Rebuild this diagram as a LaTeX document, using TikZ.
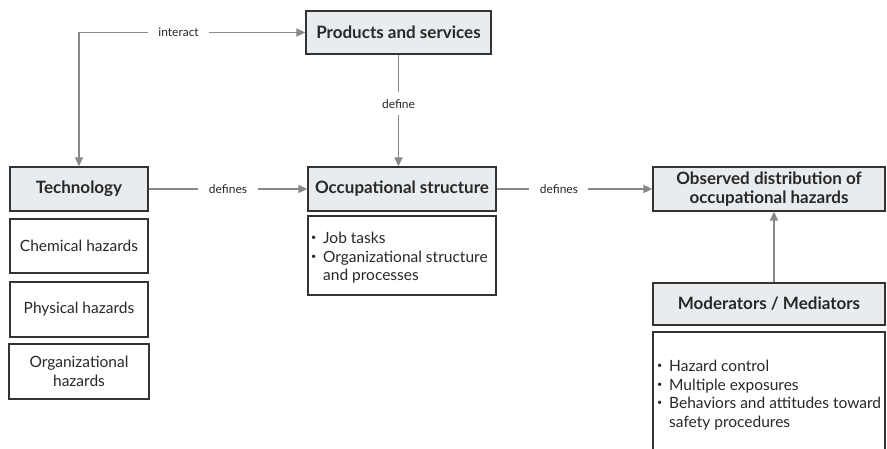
\documentclass[tikz,border=0pt]{standalone}
\usepackage{fontspec}
\setmainfont{Lato}
\usetikzlibrary{arrows.meta}
\definecolor{boxfill}{HTML}{E8ECEE}
\definecolor{boxline}{HTML}{333333}
\definecolor{arrowc}{HTML}{888888}
\definecolor{txt}{HTML}{282828}
\newcommand\mybul{\makebox[12pt][l]{\raisebox{0.18em}{\fontsize{9}{0}\selectfont\textbullet}}}
\tikzset{
  base/.style={draw=boxline, line width=1.3pt, inner sep=0pt, align=center, text=txt},
  title/.style={base, fill=boxfill, font=\fontsize{17}{19}\selectfont\bfseries},
  plainbox/.style={base, fill=white, font=\fontsize{15.5}{18.5}\selectfont},
  listtext/.style={inner sep=0pt, align=left, anchor=north west, font=\fontsize{15.5}{18.5}\selectfont, text=txt},
  conn/.style={draw=arrowc, line width=1.7pt, -{Triangle[length=9pt,width=8pt]}},
  lbl/.style={fill=white, inner xsep=10.5pt, inner ysep=3pt, font=\fontsize{12}{14}\selectfont, text=txt}
}
\begin{document}
\begin{tikzpicture}[x=1pt,y=-1pt]
\clip (0,0) rectangle (887,448);
\fill[white] (0,0) rectangle (887,448);
% boxes
\node[title, minimum width=185pt, minimum height=43pt] (prod) at (398.5,32.5) {Products and services};
\node[title, minimum width=138pt, minimum height=44pt] (tech) at (79,189) {Technology};
\node[plainbox, minimum width=138pt, minimum height=54pt] (chem) at (79,246) {Chemical hazards};
\node[plainbox, minimum width=138pt, minimum height=55pt] (phys) at (79,309.5) {Physical hazards};
\node[plainbox, minimum width=140pt, minimum height=55pt] (org) at (79,371.5) {Organizational\\hazards};
\node[title, minimum width=188pt, minimum height=44pt] (occ) at (402,189) {Occupational structure};
\node[plainbox, minimum width=188pt, minimum height=79pt] (occlist) at (402,255.5) {};
\node[listtext] (occtext) at (311,232) {\mybul Job tasks\\\mybul Organizational structure\\\phantom{\mybul}and processes};
\node[title, minimum width=232pt, minimum height=44pt] (obs) at (769,189) {Observed distribution of\\occupational hazards};
\node[title, minimum width=232pt, minimum height=42pt] (mod) at (769,304) {Moderators / Mediators};
\node[plainbox, minimum width=232pt, minimum height=130pt] (modlist) at (769,397) {};
\node[listtext] (modtext) at (657,360) {\mybul Hazard control\\\mybul Multiple exposures\\\mybul Behaviors and attitudes toward\\\phantom{\mybul}safety procedures};
% connectors
\draw[conn, {Triangle[length=9pt,width=8pt]}-{Triangle[length=9pt,width=8pt]}] (tech.north) |- node[lbl, pos=0.72, inner xsep=10pt] (lint) {interact} (prod.west);
\draw[conn] (prod.south) -- node[lbl, pos=0.44, inner xsep=3pt, inner ysep=7pt] (ldef) {define} (prod.south |- occ.north);
\draw[conn] (tech.east) -- node[lbl, pos=0.5] (ldefs1) {defines} (occ.west);
\draw[conn] (occ.east) -- node[lbl, pos=0.4] (ldefs2) {defines} (obs.west);
\draw[conn] (mod.north -| 774,0) -- (obs.south -| 774,0);
\end{tikzpicture}
\end{document}
